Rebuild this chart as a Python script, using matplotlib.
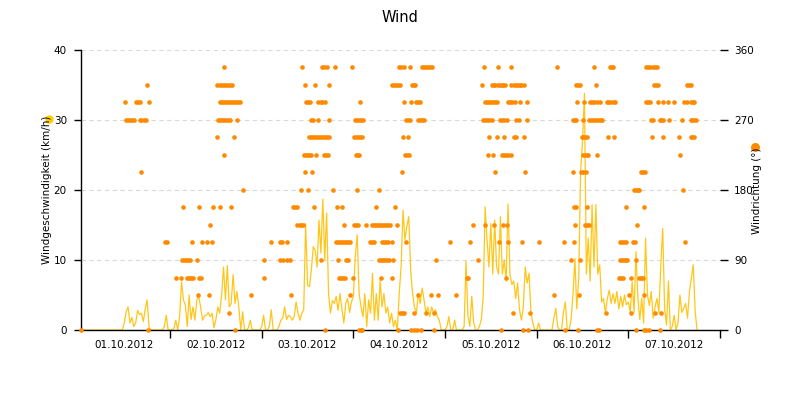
import matplotlib
matplotlib.use("Agg")
import matplotlib.pyplot as plt
from matplotlib.lines import Line2D

title = "Wind"
ylabel_left = "Windgeschwindigkeit (km/h)"
ylabel_right = "Windrichtung (°)"
day_labels = ["01.10.2012", "02.10.2012", "03.10.2012", "04.10.2012",
              "05.10.2012", "06.10.2012", "07.10.2012"]
left_ticks = [0, 10, 20, 30, 40]
right_ticks = [0, 90, 180, 270, 360]

# wind speed (km/h), half-hour steps, one list per day
speed_day1 = [0, 1.4, 0, 0, 0, 0, 0, 0, 0, 0, 0, 0, 0, 0, 0, 0, 0, 0, 0, 0,
              0, 0, 0, 0, 1, 2.6, 3.3, 1, 1.8, 0.5, 1, 2.8, 2.2, 2.4, 1.2, 3, 4.3, 0.4, 0, 0,
              0, 0, 0, 0, 0, 0.5, 2.1, 0]
speed_day2 = [0, 0, 0.2, 1.4, 0, 1.9, 6.9, 4.3, 3.6, 0.5, 5, 1.5, 3.3, 1.4, 4.3, 4.8, 3.3, 1.4, 2, 2.1,
              2.5, 1.9, 2.4, 0.3, 1.5, 3.3, 2.4, 5, 9, 4.3, 9.2, 3.3, 3.8, 7.9, 3.8, 5.5, 3.3, 0, 2.6, 0,
              0, 0.3, 1.4, 0, 0, 0, 0, 0]
speed_day3 = [0.5, 2.1, 0, 0, 0.5, 2.9, 0, 0, 0, 0.5, 1.4, 1.7, 3.3, 1.5, 2.1, 1.9, 1.4, 1.9, 4, 2.4,
              1.4, 2.4, 2.9, 15.2, 6.4, 6.2, 8.6, 11.9, 11.4, 9, 15.7, 11, 18.7, 10, 16.7, 5.2, 2.4, 4.2, 3.8, 4.8,
              2.8, 5.2, 3, 1, 3.8, 4.5, 2.5, 4]
speed_day4 = [4.8, 10.5, 13.6, 5.2, 3.3, 1.9, 5.2, 0.5, 4.3, 2.4, 8.1, 1.4, 5.2, 1.4, 7.1, 3.3, 5.2, 2.4, 3.3, 1,
              2.4, 0.5, 1.4, 0, 5.2, 9, 17.1, 12.9, 14.8, 16.2, 8.6, 5.2, 3.3, 2.4, 5.2, 3.8, 6, 4.3, 2.4, 3.3,
              1.9, 3.3, 2.4, 2.9, 1.9, 1.4, 0, 0]
speed_day5 = [0, 0.5, 1.9, 0, 0, 1.4, 0, 0, 0, 0, 0.5, 9.8, 2, 0.5, 4.8, 1, 0, 0, 0.5, 1.5,
              4.8, 17.6, 12.9, 9, 15.2, 8, 15.7, 9, 8, 16.2, 8, 10, 7, 18, 8, 6.5, 7, 4.5, 6.7, 2.9,
              1.4, 3.3, 9, 6.7, 8.1, 2.4, 1, 0]
speed_day6 = [0, 1, 0, 0, 0, 0, 0, 0, 0, 1.7, 3.1, 0.5, 0, 0, 2.5, 4, 0, 0, 1.5, 5,
              10.2, 3, 7.4, 22.6, 26.9, 33.8, 8, 13.1, 7, 17.9, 9, 17.9, 8, 9.3, 4, 4.5, 2.4, 4.5, 5.7, 3.8,
              5.2, 3.8, 5.5, 3, 4.8, 3.3, 5, 3.6]
speed_day7 = [4, 2.6, 6.9, 2.5, 11.2, 4.5, 1.5, 4.5, 1, 13.1, 5, 3.5, 5.5, 1.7, 3.3, 4.5, 2.5, 9.3, 14.5, 3,
              0.7, 7, 0, 0.5, 2.1, 0, 1, 5, 2.5, 3.1, 3.8, 1.7, 5.5, 7.4, 9.3, 2.6, 0]

# wind direction (deg) -> hours of the day at which it was recorded
dir_day1 = {0: [0.8, 18.1],
            270: [12.5, 13.0, 13.5, 14.1, 14.6, 16.0, 16.5, 17.1, 17.8],
            292.5: [12.2, 15.0, 15.5, 16.0, 18.4],
            315: [18.0], 202.5: [16.5], 112.5: [22.8, 23.2]}
dir_day2 = {67.5: [1.5, 2.9, 4.4, 4.9, 5.4, 5.9, 7.5, 8.0],
            90: [3.1, 3.6, 4.1, 4.6, 5.2, 7.0],
            112.5: [5.7, 8.3, 9.6, 10.9], 135: [10.5],
            157.5: [3.3, 7.6, 11.2, 13.2, 16.0],
            45: [7.3, 10.1, 21.1], 22.5: [15.4], 0: [16.9], 180: [19.1], 225: [14.1],
            247.5: [12.4, 16.7],
            270: [12.6, 13.2, 13.7, 14.2, 14.7, 15.3, 15.8, 17.5],
            292.5: [13.0, 13.5, 14.1, 14.6, 15.1, 15.6, 16.1, 16.7, 17.2, 17.7, 18.2],
            315: [12.4, 13.0, 13.5, 14.1, 14.6, 15.1, 15.6, 16.1],
            337.5: [14.1]}
dir_day3 = {67.5: [0.7, 20.3, 20.8, 21.4, 21.8],
            90: [0.5, 4.9, 5.7, 6.5, 7.3, 15.4, 20.1, 22.1, 22.5],
            112.5: [2.3, 4.9, 5.3, 6.6, 19.4, 20.0, 20.5, 21.0, 21.6, 22.1, 22.6, 23.1],
            135: [9.3, 9.9, 10.4, 10.9, 21.6],
            157.5: [8.2, 8.6, 9.2, 13.6, 19.7, 21.1],
            180: [10.4, 12.1, 18.6], 202.5: [11.4, 13.2],
            225: [11.0, 11.5, 12.0, 12.5, 12.9, 14.3, 16.4, 16.9, 17.4],
            247.5: [12.4, 12.9, 13.4, 14.0, 14.5, 15.0, 15.5, 16.1, 16.6, 17.1, 17.7],
            270: [12.8, 13.3, 14.8, 17.7],
            292.5: [11.6, 12.1, 12.6, 14.8, 15.4, 15.9, 16.6],
            315: [11.3, 13.9, 17.7],
            337.5: [10.5, 15.9, 16.4, 17.0, 19.3, 23.7],
            45: [7.7, 23.2], 0: [16.6]}
dir_day4 = {337.5: [12.0, 12.5, 13.2, 14.9, 18.0, 18.5, 19.0, 19.5, 20.0, 20.6],
            315: [10.1, 10.6, 11.1, 11.7, 12.2, 15.3, 15.9, 16.2],
            292.5: [1.8, 13.2, 15.0, 16.3, 16.8, 17.5],
            270: [0.5, 1.0, 1.5, 2.1, 2.4, 13.7, 14.2, 14.8, 16.8, 17.4, 17.9, 18.6],
            247.5: [0.2, 0.8, 1.3, 1.8, 2.3, 12.9, 14.3],
            225: [0.6, 1.1, 1.6, 13.5, 14.0, 14.6],
            202.5: [12.7], 180: [0.9, 6.8], 157.5: [5.8, 10.8],
            135: [0.1, 0.6, 1.1, 3.4, 4.9, 5.4, 5.9, 6.4, 7.0, 7.5, 8.0, 8.5, 9.1, 9.6, 11.4],
            112.5: [4.4, 5.0, 5.5, 7.4, 8.0, 8.5, 9.1, 10.0, 13.9],
            90: [6.7, 7.3, 7.8, 8.3, 8.8, 9.3, 10.4, 21.6],
            67.5: [0.0, 7.2, 10.1], 45: [17.0, 20.2, 22.1],
            22.5: [12.3, 12.8, 13.2, 15.9, 19.1, 21.1],
            0: [1.4, 1.9, 2.3, 11.6, 15.2, 15.9, 16.6, 17.6, 21.0]}
dir_day5 = {112.5: [1.2, 6.5, 14.2, 16.4, 20.1], 45: [2.8], 67.5: [5.8, 6.1, 16.0],
            135: [7.3, 10.4, 12.9, 15.2, 16.3], 90: [8.7],
            337.5: [10.1, 13.8, 17.2],
            315: [9.8, 12.2, 12.7, 13.2, 13.8, 14.3, 14.8, 15.3, 15.8, 17.4, 18.0, 18.5, 19.0, 19.5, 20.0, 20.6],
            292.5: [10.4, 11.0, 11.5, 12.0, 12.5, 13.1, 13.5, 16.5, 17.1, 17.6, 18.3, 19.7, 21.4],
            270: [9.9, 10.4, 11.0, 11.5, 12.2, 14.4, 14.9, 15.4, 16.1, 18.7, 19.3, 21.5],
            247.5: [11.5, 13.7, 15.5, 18.0, 18.6, 20.8],
            225: [11.3, 12.6, 15.0, 15.5, 16.0, 16.5, 17.2],
            202.5: [13.0, 21.0], 22.5: [17.8, 22.2], 0: [14.6, 20.3, 21.8]}
dir_day6 = {112.5: [0.7, 7.1, 9.9, 21.8, 22.3, 22.8, 23.3],
            337.5: [5.3, 15.0, 19.2, 19.7, 20.1], 45: [4.6, 11.1],
            90: [9.1, 11.4, 21.8, 22.3, 22.8, 23.3, 23.7],
            0: [7.5, 10.9, 15.9, 16.4],
            202.5: [9.6, 11.6, 12.1, 12.8], 157.5: [9.9, 10.3, 13.1, 23.3],
            135: [10.0, 12.7, 13.2, 13.7],
            270: [9.6, 10.0, 10.4, 12.0, 13.7, 14.2, 14.7, 15.2, 15.8, 16.3, 16.8, 17.2],
            292.5: [10.6, 12.4, 13.9, 14.4, 14.9, 15.7, 16.5, 18.3, 18.8, 19.3, 19.9, 20.4],
            315: [10.4, 10.9, 11.3, 15.5],
            247.5: [11.8, 12.2, 12.6, 13.1, 18.6, 20.3],
            225: [12.2, 12.6, 13.1, 13.5, 15.9],
            67.5: [21.5, 22.0, 22.6], 22.5: [18.1]}
dir_day7 = {337.5: [4.7, 5.2, 5.8, 6.4, 6.9, 7.5],
            315: [6.6, 7.2, 7.7, 15.3, 15.8, 16.3],
            292.5: [4.7, 5.2, 5.7, 7.7, 9.0, 10.3, 11.9, 14.7, 15.3, 16.4, 16.9, 17.3],
            270: [6.0, 6.4, 8.2, 8.6, 9.0, 10.6, 14.0, 16.3, 16.7, 17.1, 17.6],
            247.5: [6.2, 9.1, 13.2, 16.3, 16.7, 17.1], 225: [13.4],
            202.5: [3.2, 3.8, 4.4], 180: [1.6, 2.0, 2.5, 2.9, 14.3],
            157.5: [4.1], 135: [2.3], 112.5: [1.2, 1.8, 14.9], 90: [1.9],
            67.5: [0.6, 2.7, 3.3, 3.8], 45: [0.1, 4.0], 22.5: [0.6, 6.9, 8.6],
            0: [2.0, 4.2, 4.7, 5.4, 8.2]}

speed_days = [speed_day1, speed_day2, speed_day3, speed_day4, speed_day5, speed_day6, speed_day7]
dir_days = [dir_day1, dir_day2, dir_day3, dir_day4, dir_day5, dir_day6, dir_day7]

sp_t, sp_v = [], []
for d, vals in enumerate(speed_days):
    for i, v in enumerate(vals):
        sp_t.append(24 * d + 0.5 * i)
        sp_v.append(v)

dr_t, dr_v = [], []
for d, dd in enumerate(dir_days):
    for deg, hours in dd.items():
        for h in hours:
            dr_t.append(24 * d + h)
            dr_v.append(deg)

YELLOW = "#ffc61a"
ORANGE = "#ff8a00"

fig = plt.figure(figsize=(8, 4), dpi=100)
ax = fig.add_axes([80.7 / 800, 70 / 400, (720 - 80.7) / 800, 280 / 400])
ax2 = ax.twinx()

ax.plot(sp_t, sp_v, color=YELLOW, lw=0.9, zorder=2)
ax2.scatter(dr_t, dr_v, s=11, color=ORANGE, linewidths=0, zorder=3, clip_on=False)

ax.set_xlim(0.6, 168)
ax.set_ylim(0, 40)
ax2.set_ylim(0, 360)
ax.set_yticks(left_ticks)
ax2.set_yticks(right_ticks)
ax.patch.set_visible(False)

for y in left_ticks[1:]:
    ax.axhline(y, color="#d9d9d9", lw=0.8, ls=(0, (4, 3)), zorder=0)

ax.set_xticks([24 * i for i in range(1, 8)])
ax.set_xticklabels([])
ax.set_xticks([24 * i + 12 for i in range(7)], minor=True)
ax.set_xticklabels(day_labels, minor=True, fontsize=7.5)
ax.tick_params(axis="x", which="major", length=6, width=1, color="black", direction="out")
ax.tick_params(axis="x", which="minor", length=0, pad=7)
ax.tick_params(axis="y", length=5, width=1, labelsize=7.5, pad=5)
ax2.tick_params(axis="y", length=6, width=1, labelsize=7.5, pad=4)

for s in ["top", "right"]:
    ax.spines[s].set_visible(False)
for s in ["top", "right", "left", "bottom"]:
    ax2.spines[s].set_visible(False)
ax.spines["left"].set_linewidth(1)
ax.spines["bottom"].set_linewidth(1)

fig.text(0.5, 1 - 17 / 400, title, ha="center", va="center", fontsize=10.5)
fig.text(47 / 800, 1 - 190 / 400, ylabel_left, rotation=90, ha="center", va="center", fontsize=7.5)
fig.text(757 / 800, 1 - 191 / 400, ylabel_right, rotation=90, ha="center", va="center", fontsize=7.5)
fig.add_artist(Line2D([49 / 800], [1 - 119 / 400], marker="o", ms=6, color="#ffcc00",
                      markeredgewidth=0, transform=fig.transFigure))
fig.add_artist(Line2D([755 / 800], [1 - 146.5 / 400], marker="o", ms=6.5, color=ORANGE,
                      markeredgewidth=0, transform=fig.transFigure))

fig.savefig("out.png", dpi=100)
